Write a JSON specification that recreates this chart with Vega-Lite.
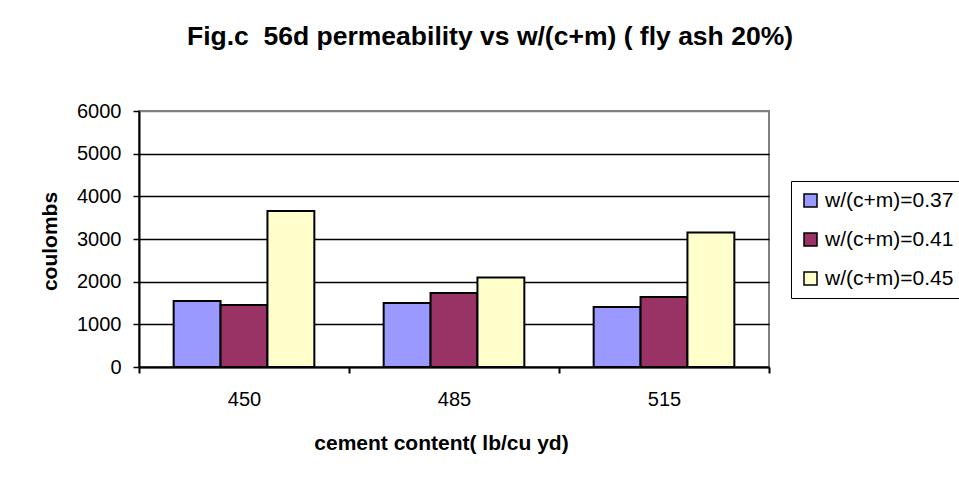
{
  "$schema": "https://vega.github.io/schema/vega-lite/v6.json",
  "width": 630,
  "height": 256,
  "autosize": {"type": "none"},
  "padding": {"left": 139, "top": 111, "right": 190, "bottom": 118},
  "background": "white",
  "title": {
    "text": "Fig.c\u00a0 56d permeability vs w/(c+m) ( fly ash 20%)",
    "font": "Liberation Sans",
    "fontSize": 26.5,
    "fontWeight": "bold",
    "color": "black",
    "anchor": "middle",
    "frame": "group",
    "dx": 36,
    "offset": 51
  },
  "data": {
    "values": [
      {"cement": "450", "ratio": "w/(c+m)=0.37", "coulombs": 1545},
      {"cement": "450", "ratio": "w/(c+m)=0.41", "coulombs": 1455},
      {"cement": "450", "ratio": "w/(c+m)=0.45", "coulombs": 3655},
      {"cement": "485", "ratio": "w/(c+m)=0.37", "coulombs": 1500},
      {"cement": "485", "ratio": "w/(c+m)=0.41", "coulombs": 1735},
      {"cement": "485", "ratio": "w/(c+m)=0.45", "coulombs": 2100},
      {"cement": "515", "ratio": "w/(c+m)=0.37", "coulombs": 1405},
      {"cement": "515", "ratio": "w/(c+m)=0.41", "coulombs": 1640},
      {"cement": "515", "ratio": "w/(c+m)=0.45", "coulombs": 3150}
    ]
  },
  "mark": {"type": "bar", "stroke": "black", "strokeWidth": 2},
  "encoding": {
    "x": {
      "field": "cement",
      "type": "nominal",
      "scale": {"paddingInner": 0, "paddingOuter": 0},
      "axis": {
        "title": "cement content( lb/cu yd)",
        "labelAngle": 0,
        "tickBand": "extent",
        "grid": false,
        "domainColor": "black",
        "domainWidth": 2,
        "tickColor": "black",
        "tickWidth": 2,
        "tickSize": 6,
        "labelPadding": 16,
        "labelFont": "Liberation Sans",
        "labelFontSize": 20,
        "labelColor": "black",
        "titleFont": "Liberation Sans",
        "titleFontSize": 21,
        "titleFontWeight": "bold",
        "titleColor": "black",
        "titleX": 302,
        "titleY": 76,
        "titleAlign": "center",
        "titleBaseline": "middle"
      }
    },
    "xOffset": {"field": "ratio", "type": "nominal", "scale": {"paddingInner": 0, "paddingOuter": 0.739}},
    "y": {
      "field": "coulombs",
      "type": "quantitative",
      "scale": {"domain": [0, 6000], "nice": false},
      "axis": {
        "title": "coulombs",
        "values": [0, 1000, 2000, 3000, 4000, 5000, 6000],
        "format": "d",
        "grid": true,
        "gridColor": {"condition": {"test": "datum.value === 6000", "value": "#808080"}, "value": "black"},
        "gridWidth": 1.5,
        "domainColor": "black",
        "domainWidth": 2,
        "tickColor": "black",
        "tickWidth": 1.5,
        "tickSize": 6,
        "labelPadding": 12,
        "labelFont": "Liberation Sans",
        "labelFontSize": 20,
        "labelColor": "black",
        "titleFont": "Liberation Sans",
        "titleFontSize": 21,
        "titleFontWeight": "bold",
        "titleColor": "black",
        "titleX": -89,
        "titleY": 130,
        "titleAngle": -90,
        "titleAlign": "center",
        "titleBaseline": "middle"
      }
    },
    "color": {
      "field": "ratio",
      "type": "nominal",
      "scale": {
        "domain": ["w/(c+m)=0.37", "w/(c+m)=0.41", "w/(c+m)=0.45"],
        "range": ["#9999FF", "#993366", "#FFFFCC"]
      },
      "legend": {
        "title": null,
        "orient": "none",
        "legendX": 652,
        "legendY": 70,
        "fillColor": "white",
        "strokeColor": "black",
        "padding": 9,
        "rowPadding": 17,
        "symbolType": "square",
        "symbolSize": 169,
        "symbolStrokeColor": "black",
        "symbolStrokeWidth": 1.5,
        "symbolOpacity": 1,
        "labelOffset": 4,
        "labelFont": "Liberation Sans",
        "labelFontSize": 21,
        "labelColor": "black",
        "labelLimit": 0
      }
    }
  },
  "config": {
    "view": {"stroke": "#808080", "strokeWidth": 2}
  }
}
